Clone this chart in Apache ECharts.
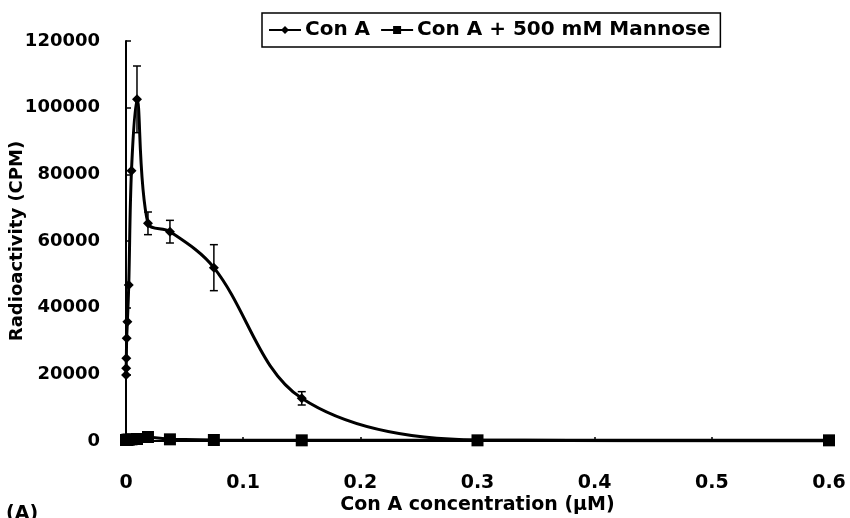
<!DOCTYPE html>
<html>
<head>
<meta charset="utf-8">
<script src="https://cdn.jsdelivr.net/npm/echarts@6/dist/echarts.min.js"></script>
<style>
  html, body { margin: 0; padding: 0; background: #fff; }
  #chart { width: 850px; height: 518px; }
</style>
</head>
<body>
<div id="chart"></div>
<script>
// Con A concentration (uM), serial dilution
const concA = [0.6, 0.3, 0.15, 0.075, 0.0375, 0.01875, 0.009375, 0.0046875,
  0.00234375, 0.001171875, 0.0005859375, 0.00029296875, 0.000146484375, 0.0000732421875]
// radioactivity (CPM) for Con A
const cpmA = [0, 300, 12800, 52000, 62800, 65300, 102500, 81100,
  46800, 35800, 30800, 24800, 21800, 19800]
// error bar half-widths
const errA = [0, 0, 2000, 6900, 3400, 3400, 10000, 0,
  0, 0, 0, 0, 0, 0]

// Con A + 500 mM Mannose
const concM = [0.6, 0.3, 0.15, 0.075, 0.0375, 0.01875, 0.009375, 0.0046875,
  0.00234375, 0.001171875, 0.0005859375, 0.00029296875, 0.000146484375, 0.0000732421875]
const cpmM = [200, 200, 200, 300, 500, 1200, 600, 500,
  400, 400, 300, 300, 300, 300]

const xMin = 0, xMax = 0.6, xStep = 0.1
const yMin = 0, yMax = 120000, yStep = 20000

const font = 'DejaVu Sans'

const chart = echarts.init(document.getElementById('chart'), null, { renderer: 'canvas' })

const pairs = (xs, ys) => xs.map((x, i) => [x, ys[i]])
const errData = concA.map((x, i) => [x, cpmA[i] - errA[i], cpmA[i] + errA[i]]).filter((d, i) => errA[i] > 0)

chart.setOption({
  animation: false,
  backgroundColor: '#fff',
  grid: { left: 126, right: 21, top: 41, bottom: 77, outerBoundsMode: 'none' },
  legend: {
    left: 262,
    top: 13,
    padding: [7, 10, 7, 6],
    itemGap: 10,
    itemWidth: 32,
    itemHeight: 10,
    borderColor: '#000',
    borderWidth: 1.5,
    textStyle: { fontFamily: font, fontWeight: 'bold', fontSize: 20, color: '#000', padding: [0, 0, 0, -1] },
    data: ['Con A', 'Con A + 500 mM Mannose']
  },
  xAxis: {
    type: 'value',
    min: xMin,
    max: xMax,
    interval: xStep,
    name: 'Con A concentration (µM)',
    nameLocation: 'middle',
    nameGap: 55,
    nameMoveOverlap: false,
    nameTextStyle: { fontFamily: font, fontWeight: 'bold', fontSize: 19, color: '#000' },
    axisLine: { lineStyle: { color: '#000', width: 2 } },
    axisTick: { inside: true, length: 4, lineStyle: { color: '#000', width: 1.5 } },
    axisLabel: { margin: 33, fontFamily: font, fontWeight: 'bold', fontSize: 19, color: '#000', formatter: v => String(v) },
    splitLine: { show: false }
  },
  yAxis: {
    type: 'value',
    min: yMin,
    max: yMax,
    interval: yStep,
    name: 'Radioactivity (CPM)',
    nameLocation: 'middle',
    nameGap: 100,
    nameMoveOverlap: false,
    nameTextStyle: { fontFamily: font, fontWeight: 'bold', fontSize: 18, color: '#000' },
    axisLine: { show: true, lineStyle: { color: '#000', width: 2 } },
    axisTick: { show: true, inside: true, length: 5, lineStyle: { color: '#000', width: 1.5 } },
    axisLabel: { margin: 26, fontFamily: font, fontWeight: 'bold', fontSize: 18, color: '#000', formatter: v => String(v) },
    splitLine: { show: false }
  },
  series: [
    {
      name: 'Con A + 500 mM Mannose',
      type: 'line',
      data: pairs(concM, cpmM),
      symbol: 'rect',
      symbolSize: 12,
      lineStyle: { color: '#000', width: 3 },
      itemStyle: { color: '#000' },
      z: 2
    },
    {
      name: 'Con A',
      type: 'line',
      data: pairs(concA, cpmA),
      smooth: 0.35,
      symbol: 'diamond',
      symbolSize: [10, 10],
      lineStyle: { color: '#000', width: 3 },
      itemStyle: { color: '#000' },
      z: 3
    },
    {
      name: 'err',
      type: 'custom',
      data: errData,
      z: 4,
      renderItem: (params, api) => {
        const x = api.value(0)
        const lo = api.coord([x, api.value(1)])
        const hi = api.coord([x, api.value(2)])
        const w = 4
        const style = { stroke: '#000', lineWidth: 1.5 }
        return {
          type: 'group',
          children: [
            { type: 'line', shape: { x1: lo[0], y1: lo[1], x2: hi[0], y2: hi[1] }, style },
            { type: 'line', shape: { x1: lo[0] - w, y1: lo[1], x2: lo[0] + w, y2: lo[1] }, style },
            { type: 'line', shape: { x1: hi[0] - w, y1: hi[1], x2: hi[0] + w, y2: hi[1] }, style }
          ]
        }
      }
    }
  ],
  graphic: [
    {
      type: 'text',
      left: 6,
      top: 505,
      style: { text: '(A)', fontFamily: font, fontWeight: 'bold', fontSize: 19, fill: '#000' }
    }
  ]
})
</script>
</body>
</html>
